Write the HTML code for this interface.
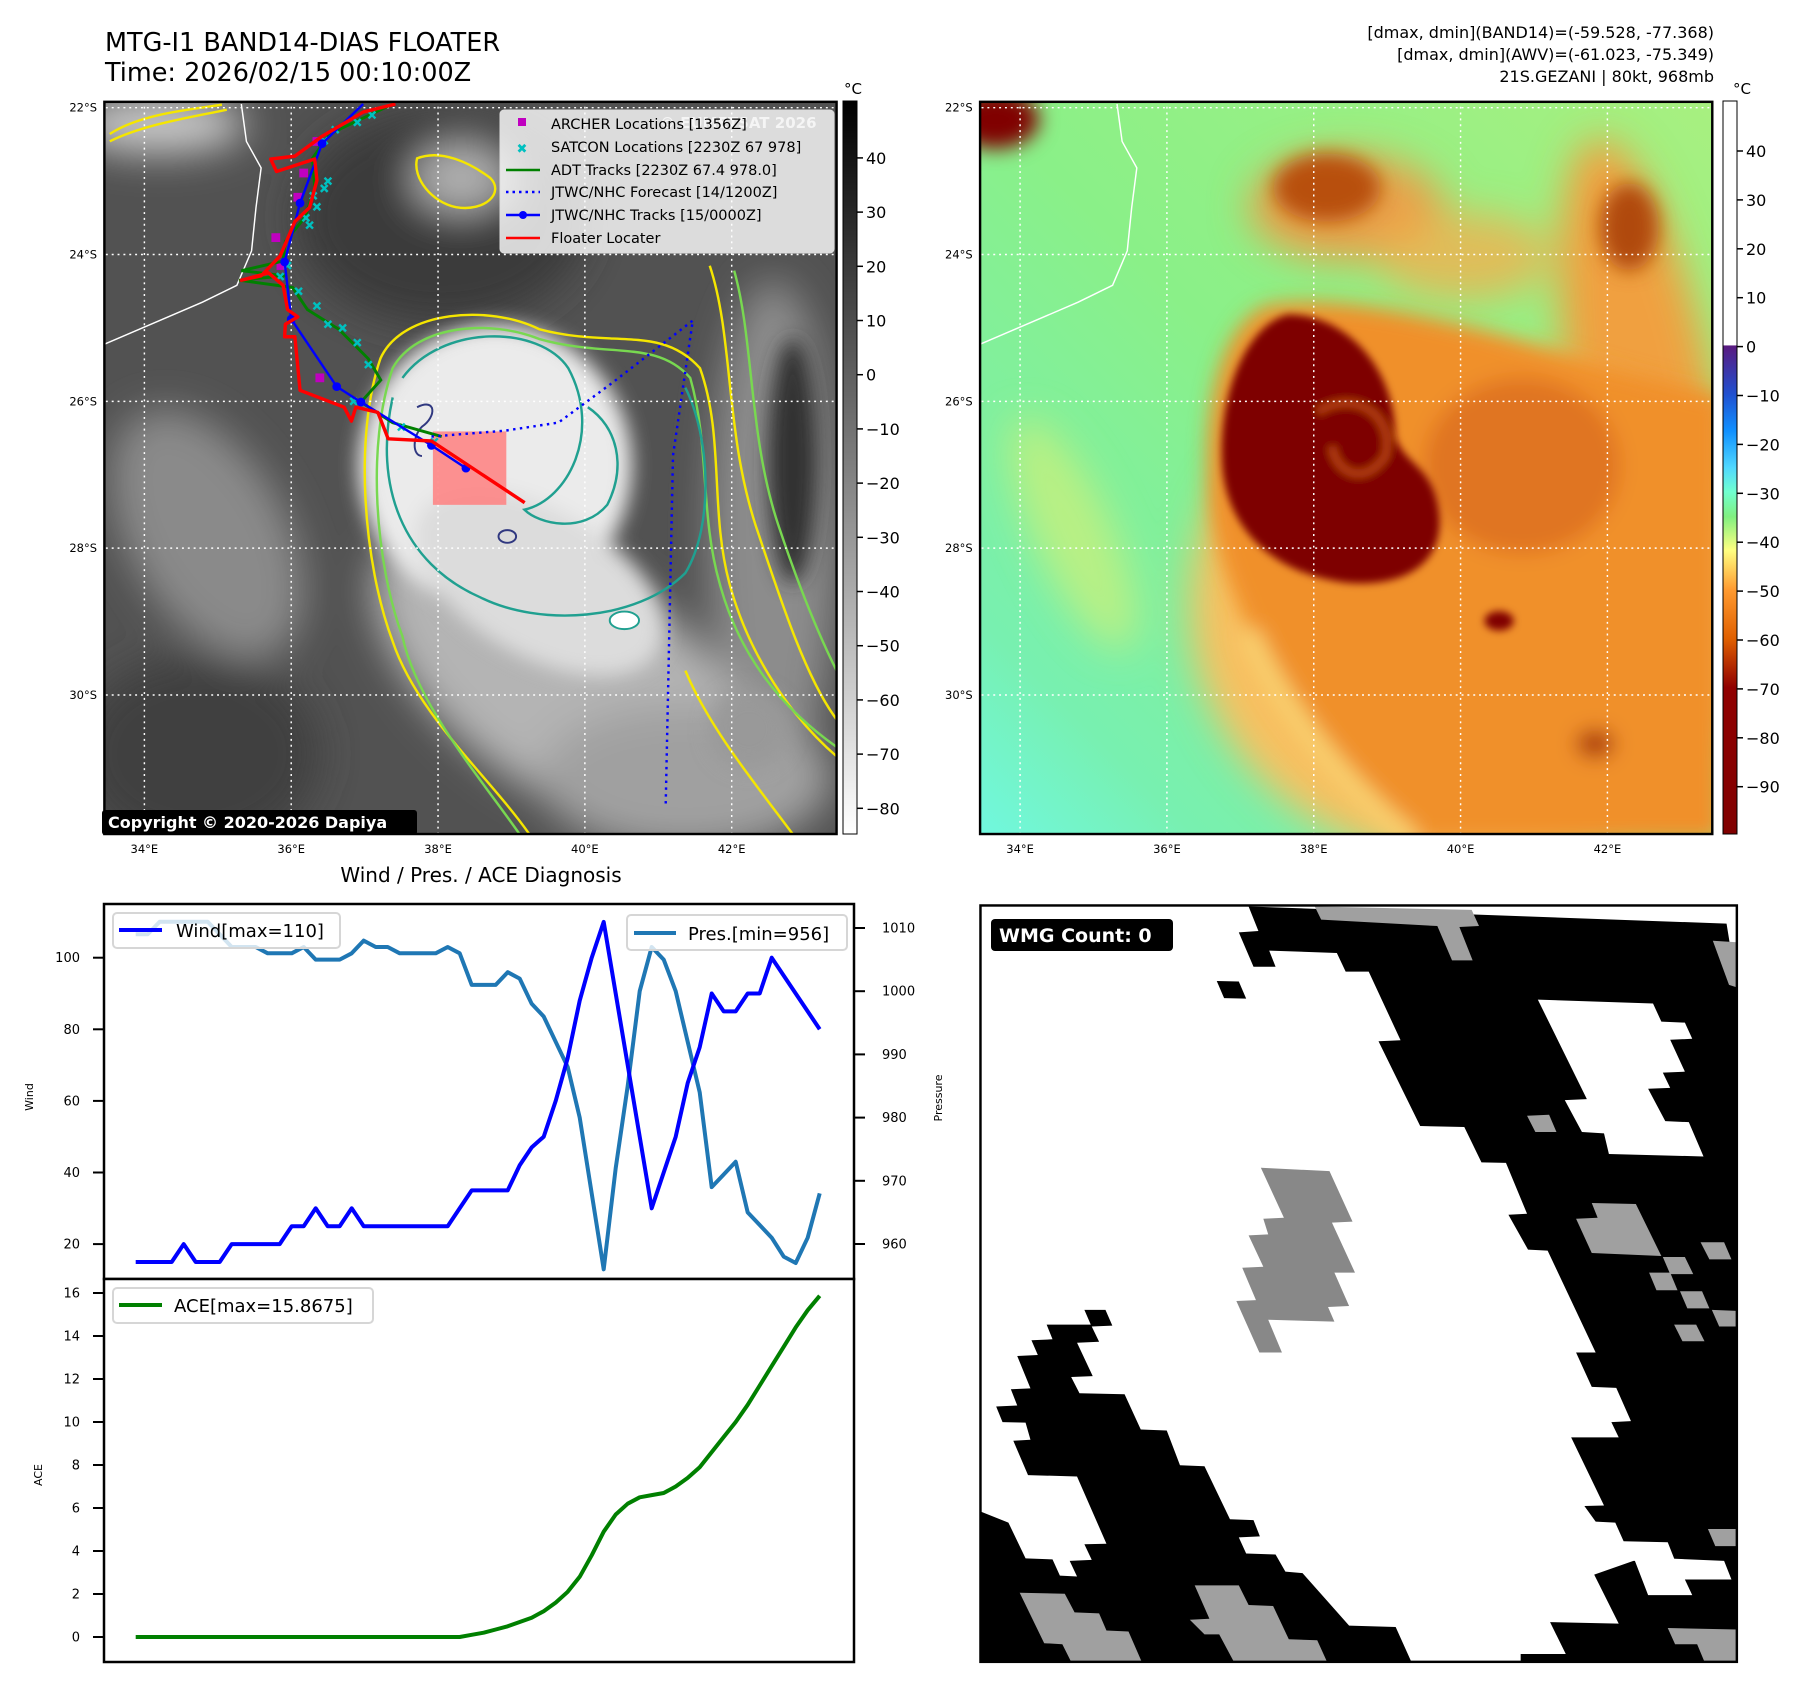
<!DOCTYPE html>
<html><head><meta charset="utf-8"><title>MTG-I1 BAND14-DIAS FLOATER</title>
<style>
html,body{margin:0;padding:0;background:#fff;}
svg{display:block;font-family:"DejaVu Sans","Liberation Sans",sans-serif;}
</style></head>
<body>
<svg id="fig" width="1797" height="1691" viewBox="0 0 1797 1691" xmlns="http://www.w3.org/2000/svg">
<defs>
  <filter id="b8" x="-20%" y="-20%" width="140%" height="140%"><feGaussianBlur stdDeviation="8"/></filter>
  <filter id="b20" x="-30%" y="-30%" width="160%" height="160%"><feGaussianBlur stdDeviation="20"/></filter>
  <filter id="b40" x="-40%" y="-40%" width="180%" height="180%"><feGaussianBlur stdDeviation="40"/></filter>
  <clipPath id="clipMap"><rect x="9" y="14" width="1501" height="1501"/></clipPath>
  <linearGradient id="cbGray" x1="0" y1="0" x2="0" y2="1">
    <stop offset="0" stop-color="#000"/><stop offset="1" stop-color="#fff"/>
  </linearGradient>
  <linearGradient id="cbAwv" x1="0" y1="0" x2="0" y2="1">
    <stop offset="0" stop-color="#fff"/><stop offset="0.333" stop-color="#fff"/>
    <stop offset="0.334" stop-color="#5a1a80"/><stop offset="0.40" stop-color="#2050d0"/>
    <stop offset="0.45" stop-color="#1090ff"/><stop offset="0.50" stop-color="#50d8ff"/>
    <stop offset="0.533" stop-color="#70ffd0"/><stop offset="0.567" stop-color="#80f080"/>
    <stop offset="0.613" stop-color="#ffff80"/><stop offset="0.667" stop-color="#ff9a30"/>
    <stop offset="0.733" stop-color="#e06000"/><stop offset="0.80" stop-color="#900000"/>
    <stop offset="1" stop-color="#800000"/>
  </linearGradient>
  <linearGradient id="awvBg" x1="1" y1="0" x2="0" y2="1">
    <stop offset="0" stop-color="#a8f080"/><stop offset="0.5" stop-color="#8af088"/>
    <stop offset="0.85" stop-color="#78f0b0"/><stop offset="1" stop-color="#70f8e0"/>
  </linearGradient>
</defs>

<!-- Titles -->
<text x="105" y="51" font-size="25.5" fill="#000">MTG-I1 BAND14-DIAS FLOATER</text>
<text x="105" y="81" font-size="25.5" fill="#000">Time: 2026/02/15 00:10:00Z</text>
<g font-size="16" text-anchor="end" fill="#000">
  <text x="1714" y="38">[dmax, dmin](BAND14)=(-59.528, -77.368)</text>
  <text x="1714" y="60">[dmax, dmin](AWV)=(-61.023, -75.349)</text>
  <text x="1714" y="82">21S.GEZANI | 80kt, 968mb</text>
</g>

<!-- LEFT MAP -->
<g>
<g transform="translate(100,95) scale(0.4878)">
 <g clip-path="url(#clipMap)">
  <rect x="0" y="0" width="1520" height="1520" fill="#525252"/>
  <g filter="url(#b40)">
    <ellipse cx="700" cy="250" rx="300" ry="220" fill="#3a3a3a"/>
    <ellipse cx="200" cy="1350" rx="250" ry="200" fill="#404040"/>
    <ellipse cx="220" cy="900" rx="160" ry="280" fill="#8a8a8a" transform="rotate(-30 220 900)"/>
    <ellipse cx="120" cy="60" rx="180" ry="60" fill="#c8c8c8"/>
    <ellipse cx="740" cy="170" rx="100" ry="70" fill="#b0b0b0"/>
    <ellipse cx="1380" cy="900" rx="130" ry="520" fill="#8c8c8c"/>
    <ellipse cx="960" cy="1200" rx="460" ry="230" fill="#b4b4b4" transform="rotate(35 960 1200)"/>
    <ellipse cx="1200" cy="1400" rx="300" ry="150" fill="#a0a0a0"/>
  </g>
  <g filter="url(#b20)">
    <ellipse cx="810" cy="760" rx="280" ry="290" fill="#ebebeb"/>
    <ellipse cx="900" cy="1000" rx="280" ry="150" fill="#dcdcdc" transform="rotate(30 900 1000)"/>
    <ellipse cx="1330" cy="1300" rx="80" ry="80" fill="#999"/>
    <ellipse cx="1420" cy="750" rx="50" ry="250" fill="#333"/>
  </g>
  <!-- contours -->
  <g fill="none" stroke-width="5">
    <path d="M880,1515 C800,1400 650,1270 600,1120 C540,960 520,700 575,540 C620,440 800,430 900,480 C1050,520 1150,470 1230,560 C1280,700 1250,850 1290,1000 C1330,1150 1420,1280 1515,1360" stroke="#f5e600"/>
    <path d="M860,1515 C780,1400 650,1250 620,1110 C565,960 545,720 600,560 C650,470 800,460 900,500 C1040,540 1140,500 1210,580 C1250,720 1230,860 1270,1000 C1310,1150 1400,1260 1515,1340" stroke="#78d850"/>
    <path d="M620,580 C700,470 900,470 960,560 C1030,690 960,830 870,850 C900,880 990,900 1040,840 C1080,760 1060,680 1000,640" stroke="#20a090"/>
    <path d="M600,620 C560,800 620,960 780,1030 C900,1090 1100,1080 1200,980 C1260,880 1250,700 1200,600" stroke="#20a090"/>
    <path d="M20,80 C80,40 180,30 250,20 M20,95 C90,60 190,45 260,30" stroke="#f5e600"/>
    <path d="M650,130 C700,110 760,140 800,170 C830,200 790,240 730,230 C680,220 640,170 650,130Z" stroke="#f5e600"/>
    <path d="M1250,350 C1300,500 1280,700 1350,900 C1400,1050 1450,1200 1510,1280" stroke="#f5e600"/>
    <path d="M1300,360 C1340,500 1330,700 1390,880 C1430,1000 1470,1100 1510,1180" stroke="#78d850"/>
    <path d="M1200,1180 C1250,1300 1350,1420 1420,1515" stroke="#f5e600"/>
    <ellipse cx="835" cy="905" rx="18" ry="13" stroke="#303880" stroke-width="4"/>
    <ellipse cx="1075" cy="1077" rx="30" ry="18" stroke="#20a090" stroke-width="4" fill="#fff"/>
    <path d="M650,640 C690,620 690,660 660,680 C640,700 640,740 660,740" stroke="#303880" stroke-width="4"/>
  </g>
  <!-- grid -->
  <g id="grid1" stroke="#fff" stroke-width="3" stroke-dasharray="4,8"></g>
  <!-- coastline -->
  <path id="coast1" fill="none" stroke="#fff" stroke-width="3"/>
  <!-- floater box -->
  <rect id="floaterBox" fill="#ff8080" fill-opacity="0.85"/>
  <g id="tracks1"></g>
 </g>
  <rect x="9" y="14" width="1501" height="1501" fill="none" stroke="#000" stroke-width="5"/>
</g>
</g>

<!-- Left map legend -->
<g>
  <rect x="500" y="110" width="334" height="143" rx="4" fill="#fff" fill-opacity="0.8" stroke="#ddd"/>
  <text x="660" y="128" font-size="15" font-weight="bold" fill="#fff" fill-opacity="0.7">© EUMETSAT 2026</text>
  <g font-size="14.5" fill="#000">
    <rect x="518" y="118" width="8" height="8" fill="#c000c0"/>
    <text x="551" y="129">ARCHER Locations [1356Z]</text>
    <text x="522" y="153" font-size="13" fill="#00c0c0" text-anchor="middle">✖</text>
    <text x="551" y="152">SATCON Locations [2230Z 67 978]</text>
    <line x1="506" y1="170" x2="540" y2="170" stroke="#008000" stroke-width="2.5"/>
    <text x="551" y="175">ADT Tracks [2230Z 67.4 978.0]</text>
    <line x1="506" y1="192" x2="540" y2="192" stroke="#0000ff" stroke-width="2.5" stroke-dasharray="2.5,4"/>
    <text x="551" y="197">JTWC/NHC Forecast [14/1200Z]</text>
    <line x1="506" y1="215" x2="540" y2="215" stroke="#0000ff" stroke-width="2.5"/>
    <circle cx="523" cy="215" r="4" fill="#0000ff"/>
    <text x="551" y="220">JTWC/NHC Tracks [15/0000Z]</text>
    <line x1="506" y1="238" x2="540" y2="238" stroke="#ff0000" stroke-width="2.5"/>
    <text x="551" y="243">Floater Locater</text>
  </g>
</g>
<g>
  <rect x="102" y="810" width="315" height="25" rx="3" fill="#000"/>
  <text x="108" y="828" font-size="16" font-weight="bold" fill="#fff">Copyright © 2020-2026 Dapiya</text>
</g>

<!-- colorbar 1 -->
<g>
  <rect x="843" y="101" width="14" height="733" fill="url(#cbGray)" stroke="#000" stroke-width="1"/>
  <text x="853" y="94" font-size="15" text-anchor="middle">°C</text>
  <g id="cb1ticks" font-size="16"></g>
</g>

<!-- RIGHT MAP -->
<g>
<g transform="translate(975.7,95) scale(0.4878)">
 <g clip-path="url(#clipMap)">
  <rect x="0" y="0" width="1520" height="1520" fill="url(#awvBg)"/>
  <g filter="url(#b40)">
    <ellipse cx="200" cy="900" rx="80" ry="260" fill="#e0f070" opacity="0.6" transform="rotate(-25 200 900)"/>
    <ellipse cx="1380" cy="700" rx="150" ry="620" fill="#f0a040" transform="rotate(-10 1380 700)"/>
    <ellipse cx="1000" cy="1050" rx="560" ry="520" fill="#f8c060"/>
    <ellipse cx="760" cy="230" rx="200" ry="110" fill="#e8a048"/>
    <ellipse cx="1000" cy="330" rx="180" ry="90" fill="#f0b050" opacity="0.8"/>
  </g>
  <g filter="url(#b20)">
    <path d="M600,430 C800,400 1100,500 1300,560 L1530,620 L1530,1530 L900,1530 C700,1350 520,1100 480,850 C460,650 500,470 600,430Z" fill="#f0902c"/>
    <ellipse cx="1120" cy="760" rx="200" ry="180" fill="#e07420"/>
    <ellipse cx="720" cy="190" rx="110" ry="70" fill="#b85010"/>
    <ellipse cx="1340" cy="270" rx="60" ry="90" fill="#b04a10"/>
    <ellipse cx="40" cy="50" rx="90" ry="60" fill="#800000"/>
    <ellipse cx="1270" cy="1330" rx="40" ry="30" fill="#b04010"/>
    <path d="M560,1100 C650,1300 800,1450 900,1530" fill="none" stroke="#f8d070" stroke-width="40"/>
  </g>
  <g filter="url(#b8)">
    <path d="M640,450 C560,470 500,600 505,750 C510,880 600,980 760,1000 C880,1010 960,960 950,860 C940,760 880,760 860,700 C860,560 760,450 640,450Z" fill="#7e0000"/>
    <path d="M700,650 C780,600 860,660 840,740 C800,800 740,780 730,720" fill="none" stroke="#b03a08" stroke-width="18"/>
    <ellipse cx="1073" cy="1078" rx="30" ry="20" fill="#800000"/>
  </g>
  <g id="grid2" stroke="#fff" stroke-width="3" stroke-dasharray="4,8"></g>
  <path id="coast2" fill="none" stroke="#fff" stroke-width="3"/>
 </g>
  <rect x="9" y="14" width="1501" height="1501" fill="none" stroke="#000" stroke-width="5"/>
</g>
</g>

<!-- colorbar 2 -->
<g>
  <rect x="1723" y="101" width="14" height="733" fill="url(#cbAwv)" stroke="#000" stroke-width="1"/>
  <text x="1742" y="94" font-size="15" text-anchor="middle">°C</text>
  <g id="cb2ticks" font-size="16"></g>
</g>

<!-- map axis labels -->
<g id="mapLabels" font-size="11.5" fill="#000"></g>

<!-- Diagnosis chart -->
<text x="481" y="882" font-size="20" text-anchor="middle">Wind / Pres. / ACE Diagnosis</text>
<g id="chart">
  <rect x="104" y="904" width="750" height="375" fill="#fff" stroke="#000" stroke-width="2.5"/>
  <rect x="104" y="1279" width="750" height="383" fill="#fff" stroke="#000" stroke-width="2.5"/>
  <g id="axes" font-size="13"></g>
  <path id="presLine" fill="none" stroke="#1f77b4" stroke-width="4" stroke-linejoin="round"/>
  <path id="windLine" fill="none" stroke="#0000ff" stroke-width="4" stroke-linejoin="round"/>
  <path id="aceLine" fill="none" stroke="#008000" stroke-width="4" stroke-linejoin="round"/>
  <text x="33" y="1097" font-size="11" text-anchor="middle" transform="rotate(-90 33 1097)">Wind</text>
  <text x="942" y="1098" font-size="11" text-anchor="middle" transform="rotate(-90 942 1098)">Pressure</text>
  <text x="42" y="1475" font-size="11" text-anchor="middle" transform="rotate(-90 42 1475)">ACE</text>
  <g>
    <rect x="113" y="913" width="227" height="35" rx="4" fill="#fff" fill-opacity="0.8" stroke="#d6d6d6" stroke-width="2"/>
    <line x1="119" y1="930" x2="162" y2="930" stroke="#0000ff" stroke-width="4"/>
    <text x="176" y="937" font-size="18">Wind[max=110]</text>
  </g>
  <g>
    <rect x="627" y="915" width="220" height="35" rx="4" fill="#fff" fill-opacity="0.8" stroke="#d6d6d6" stroke-width="2"/>
    <line x1="634" y1="933" x2="676" y2="933" stroke="#1f77b4" stroke-width="4"/>
    <text x="688" y="940" font-size="18">Pres.[min=956]</text>
  </g>
  <g>
    <rect x="113" y="1288" width="260" height="35" rx="4" fill="#fff" fill-opacity="0.8" stroke="#d6d6d6" stroke-width="2"/>
    <line x1="119" y1="1305" x2="162" y2="1305" stroke="#008000" stroke-width="4"/>
    <text x="174" y="1312" font-size="18">ACE[max=15.8675]</text>
  </g>
</g>

<!-- WMG panel -->
<g>
<g transform="translate(979,904) scale(0.4902)">
  <rect x="3" y="3" width="1543" height="1543" fill="#fff"/>
  <g fill="#000">
    <path d="M550,5 L1525,40 L1546,170 L1546,1546 L1105,1546 L1105,1530 L1197,1530 L1165,1465 L1305,1468 L1255,1368 L1335,1340 L1420,1340 L1405,1302 L1315,1300 L1298,1262 L1258,1260 L1235,1228 L1275,1227 L1208,1088 L1305,1088 L1290,1057 L1330,1055 L1300,987 L1250,985 L1218,915 L1258,915 L1160,707 L1120,705 L1080,634 L1118,632 L1075,528 L1025,527 L990,455 L900,453 L815,280 L860,278 L795,138 L748,138 L730,100 L592,95 L605,128 L560,128 L530,58 L570,55Z"/>
    <path d="M215,828 L258,828 L272,860 L230,862 L245,893 L200,895 L232,963 L188,965 L205,998 L297,1000 L330,1072 L383,1074 L410,1145 L460,1147 L512,1255 L560,1257 L573,1290 L530,1292 L545,1325 L605,1327 L625,1362 L660,1365 L755,1472 L850,1475 L882,1546 L5,1546 L5,1240 L60,1262 L95,1335 L150,1337 L165,1370 L200,1372 L185,1340 L230,1338 L215,1306 L260,1305 L200,1168 L100,1165 L70,1095 L105,1093 L95,1058 L48,1057 L35,1025 L78,1023 L65,990 L105,988 L78,922 L120,920 L107,890 L150,888 L138,858 L228,858Z"/>
    <path d="M485,157 L530,158 L545,193 L500,192Z"/>
  </g>
  <g fill="#fff">
    <path d="M1140,195 L1375,203 L1392,240 L1440,242 L1455,275 L1410,277 L1440,342 L1395,344 L1410,375 L1365,377 L1400,443 L1448,445 L1478,515 L1285,510 L1275,468 L1230,465 L1195,400 L1240,398Z"/>
    <path d="M1335,1332 L1520,1340 L1535,1378 L1440,1378 L1455,1410 L1365,1410Z"/>
  </g>
  <g fill="#a0a0a0">
    <path d="M1250,610 L1340,612 L1392,718 L1250,712 L1218,642 L1262,640Z"/>
    <path d="M1118,432 L1163,430 L1178,465 L1135,465Z"/>
    <path d="M1472,690 L1520,690 L1535,725 L1490,725Z"/>
    <path d="M1395,720 L1440,720 L1457,755 L1410,755Z"/>
    <path d="M1367,752 L1410,752 L1425,788 L1382,788Z"/>
    <path d="M1430,790 L1475,790 L1490,825 L1445,825Z"/>
    <path d="M1495,828 L1546,830 L1546,862 L1510,862Z"/>
    <path d="M1418,858 L1463,858 L1480,892 L1435,892Z"/>
    <path d="M1487,1275 L1546,1275 L1546,1310 L1502,1310Z"/>
    <path d="M1405,1477 L1546,1480 L1546,1546 L1480,1546 L1465,1510 L1420,1510Z"/>
    <path d="M83,1405 L175,1407 L195,1445 L245,1447 L260,1482 L305,1484 L332,1546 L188,1546 L170,1510 L133,1508Z"/>
    <path d="M440,1390 L530,1390 L550,1430 L600,1432 L632,1500 L690,1502 L710,1546 L520,1546 L490,1490 L460,1490 L430,1460 L470,1458Z"/>
    <path d="M685,5 L1005,12 L1020,45 L980,47 L1007,115 L965,115 L935,45 L698,32Z"/>
    <path d="M1497,75 L1546,78 L1546,170 L1530,165Z"/>
  </g>
  <path fill="#888" d="M575,538 L715,545 L762,648 L720,650 L767,752 L725,752 L755,820 L712,822 L725,852 L590,848 L618,915 L572,915 L525,810 L565,808 L537,742 L580,740 L550,676 L590,674 L580,642 L622,640Z"/>
  <rect x="3" y="3" width="1543" height="1543" fill="none" stroke="#000" stroke-width="5"/>
</g>
<rect x="991" y="919" width="182" height="32" rx="4" fill="#000"/>
<text x="999" y="942" font-size="19" font-weight="bold" fill="#fff">WMG Count: 0</text>
</g>

<script>
// ---- Diagnosis chart data ----
const windVals = [15,15,15,15,20,15,15,15,20,20,20,20,20,25,25,30,25,25,30,25,25,25,25,25,25,25,25,30,35,35,35,35,42,47,50,60,72,88,100,110,90,70,50,30,40,50,65,75,90,85,85,90,90,100,95,90,85,80];
const presVals = [1009,1009,1011,1011,1011,1011,1011,1009,1007,1007,1007,1006,1006,1006,1007,1005,1005,1005,1006,1008,1007,1007,1006,1006,1006,1006,1007,1006,1001,1001,1001,1003,1002,998,996,992,988,980,968,956,972,985,1000,1007,1005,1000,992,984,969,971,973,965,963,961,958,957,961,968];
const aceVals = [0,0,0,0,0,0,0,0,0,0,0,0,0,0,0,0,0,0,0,0,0,0,0,0,0,0,0,0,0.1,0.2,0.35,0.5,0.7,0.9,1.2,1.6,2.1,2.8,3.8,4.9,5.7,6.2,6.5,6.6,6.7,7.0,7.4,7.9,8.6,9.3,10.0,10.8,11.7,12.6,13.5,14.4,15.2,15.8675];
const windTicks = [20,40,60,80,100];
const presTicks = [960,970,980,990,1000,1010];
const aceTicks = [0,2,4,6,8,10,12,14,16];
const cb1Ticks = [40,30,20,10,0,-10,-20,-30,-40,-50,-60,-70,-80];
const cb2Ticks = [40,30,20,10,0,-10,-20,-30,-40,-50,-60,-70,-80,-90];

// ---- Map track data (lon E, lat S) ----
const floaterLon = [37.42,36.98,36.42,36.05,35.72,35.80,36.32,36.35,36.25,36.05,35.85,35.59,35.32,35.69,35.89,35.95,36.09,35.92,35.91,36.05,36.12,36.72,36.82,36.88,37.18,37.32,37.91,39.18];
const floaterLat = [21.95,22.06,22.39,22.66,22.70,22.87,22.70,22.99,23.36,23.55,24.02,24.29,24.35,24.25,24.42,24.75,24.85,24.95,25.12,25.12,25.85,26.08,26.27,26.08,26.15,26.51,26.54,27.38];
const jtwcLon = [36.98,36.42,36.12,35.91,36.00,36.62,36.95,37.91,38.38];
const jtwcLat = [21.95,22.49,23.30,24.10,24.88,25.80,26.01,26.60,26.91];
const fcstLon = [37.91,38.91,39.64,40.37,41.47,41.20,41.10];
const fcstLat = [26.48,26.40,26.29,25.75,24.90,26.74,31.53];
const adtLon = [37.38,36.52,36.29,36.32,36.19,35.92,35.89,35.32,35.92,35.29,36.02,36.22,36.65,37.05,37.22,36.95,37.38,38.05];
const adtLat = [21.95,22.36,22.69,23.09,23.49,23.82,24.09,24.22,24.29,24.35,24.45,24.75,25.02,25.42,25.71,26.01,26.29,26.48];
const archerLon = [36.35,36.17,36.09,35.79,35.86,36.39];
const archerLat = [22.46,22.89,23.22,23.77,24.15,25.68];
const satconLon = [37.1,36.9,36.6,36.45,36.5,36.45,36.3,36.35,36.2,36.25,35.95,35.85,36.1,36.35,36.5,36.7,36.9,37.05,36.85,37.5,37.95];
const satconLat = [22.1,22.2,22.3,22.45,23.0,23.1,23.2,23.35,23.5,23.6,24.15,24.3,24.5,24.7,24.95,25.0,25.2,25.5,26.0,26.35,26.55];
const coastLon = [35.32,35.39,35.59,35.52,35.46,35.26,34.79,33.46];
const coastLat = [21.95,22.46,22.82,23.36,23.95,24.42,24.65,25.22];
const floaterBoxLon = [37.93,38.93];
const floaterBoxLat = [26.41,27.41];
const lonGrid = [34,36,38,40,42];
const latGrid = [22,24,26,28,30];

const NS = 'http://www.w3.org/2000/svg';
function mk(tag, attrs, parent){ const e=document.createElementNS(NS,tag); for(const k in attrs) e.setAttribute(k,attrs[k]); parent.appendChild(e); return e; }

function xPos(i){ return 135.7 + 12*i; }
function yWind(v){ return 957.7 - (v-100)*3.58; }
function yPres(v){ return 928 + (1010-v)*6.32; }
function yAce(v){ return 1637 - v*21.5; }
function linePath(vals, yf){ return vals.map((v,i)=>(i?'L':'M')+xPos(i).toFixed(1)+','+yf(v).toFixed(1)).join(' '); }

const wl = document.getElementById('windLine');
wl.setAttribute('d', linePath(windVals, yWind));


const pl = document.getElementById('presLine');
pl.setAttribute('d', linePath(presVals, yPres));


const al = document.getElementById('aceLine');
al.setAttribute('d', linePath(aceVals, yAce));



const axes = document.getElementById('axes');
windTicks.forEach(t=>{
  const y=yWind(t);
  mk('line',{x1:93,y1:y,x2:104,y2:y,stroke:'#000','stroke-width':2},axes);
  const tx=mk('text',{x:80,y:y+4.5,'text-anchor':'end'},axes); tx.textContent=t;
  
  
});
presTicks.forEach(t=>{
  const y=yPres(t);
  mk('line',{x1:854,y1:y,x2:865,y2:y,stroke:'#000','stroke-width':2},axes);
  const tx=mk('text',{x:882,y:y+4.5},axes); tx.textContent=t;
  
  
});
aceTicks.forEach(t=>{
  const y=yAce(t);
  mk('line',{x1:93,y1:y,x2:104,y2:y,stroke:'#000','stroke-width':2},axes);
  const tx=mk('text',{x:80,y:y+4.5,'text-anchor':'end'},axes); tx.textContent=t;
  
  
});

const cb1 = document.getElementById('cb1ticks');
cb1Ticks.forEach(t=>{
  const y = 101 + (50.5 - t)*5.42;
  mk('line',{x1:857,y1:y,x2:863,y2:y,stroke:'#000','stroke-width':1.5},cb1);
  const tx=mk('text',{x:866,y:y+6},cb1); tx.textContent=(t<0?'\u2212'+(-t):t);
  
  
});
const cb2 = document.getElementById('cb2ticks');
cb2Ticks.forEach(t=>{
  const y = 151 + (40 - t)*4.89;
  mk('line',{x1:1737,y1:y,x2:1743,y2:y,stroke:'#000','stroke-width':1.5},cb2);
  const tx=mk('text',{x:1746,y:y+6},cb2); tx.textContent=(t<0?'\u2212'+(-t):t);
  
  
});

function px(lon){ return 91 + (lon-34)*150.5; }
function py(lat){ return 26 + (lat-22)*150.5; }
function poly(lons, lats){ return lons.map((l,i)=>(i?'L':'M')+px(l).toFixed(1)+','+py(lats[i]).toFixed(1)).join(' '); }

['grid1','grid2'].forEach(id=>{
  const g=document.getElementById(id);
  lonGrid.forEach(l=>{ mk('line',{x1:px(l),y1:0,x2:px(l),y2:1520},g); });
  latGrid.forEach(l=>{ mk('line',{x1:0,y1:py(l),x2:1520,y2:py(l)},g); });
});
['coast1','coast2'].forEach(id=>{
  const c=document.getElementById(id);
  c.setAttribute('d', poly(coastLon, coastLat));
  
  
});

const fb = document.getElementById('floaterBox');
fb.setAttribute('x', px(floaterBoxLon[0])); fb.setAttribute('y', py(floaterBoxLat[0]));
fb.setAttribute('width', px(floaterBoxLon[1])-px(floaterBoxLon[0]));
fb.setAttribute('height', py(floaterBoxLat[1])-py(floaterBoxLat[0]));

const tr = document.getElementById('tracks1');
archerLon.forEach((l,i)=>{
  const r=mk('rect',{x:px(l)-9,y:py(archerLat[i])-9,width:18,height:18,fill:'#c000c0'},tr);
  
  
});
const adt = mk('path',{d:poly(adtLon,adtLat),fill:'none',stroke:'#008000','stroke-width':6},tr);


satconLon.forEach((l,i)=>{
  const x=px(l), y=py(satconLat[i]);
  const s=mk('path',{d:`M${x-7},${y-7}L${x+7},${y+7}M${x-7},${y+7}L${x+7},${y-7}`,stroke:'#00c0c0','stroke-width':5},tr);
  
  
});
const fc = mk('path',{d:poly(fcstLon,fcstLat),fill:'none',stroke:'#0000ff','stroke-width':5,'stroke-dasharray':'5,9'},tr);


const jt = mk('path',{d:poly(jtwcLon,jtwcLat),fill:'none',stroke:'#0000ff','stroke-width':5},tr);


jtwcLon.forEach((l,i)=>{
  if(i===0) return;
  const c=mk('circle',{cx:px(l),cy:py(jtwcLat[i]),r:9,fill:'#0000ff'},tr);
  
  
});
const fl = mk('path',{d:poly(floaterLon,floaterLat),fill:'none',stroke:'#ff0000','stroke-width':7,'stroke-linejoin':'round'},tr);



const ml = document.getElementById('mapLabels');
[0, 875.7].forEach(off=>{
  latGrid.forEach(l=>{
    const y = 95 + py(l)*0.4878;
    const t=mk('text',{x:off+97,y:y+4,'text-anchor':'end'},ml); t.textContent=l+'°S';
    
    
  });
  lonGrid.forEach(l=>{
    const x = off + 100 + px(l)*0.4878;
    const t=mk('text',{x:x,y:853,'text-anchor':'middle'},ml); t.textContent=l+'°E';
    
    
  });
});
</script>
</body></html>
